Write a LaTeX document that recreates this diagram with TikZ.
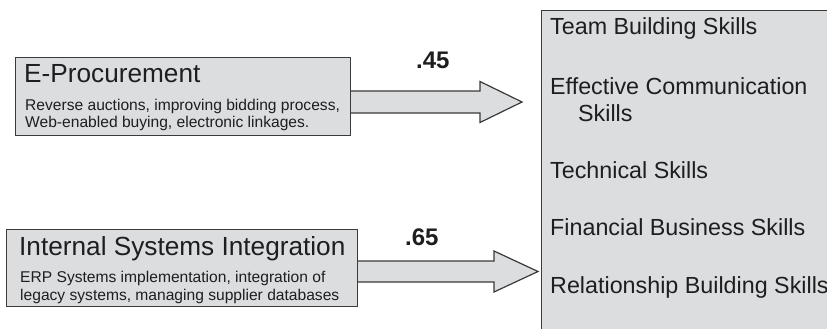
\documentclass[tikz,border=0pt]{standalone}
\usepackage{fontspec}
\setmainfont{Liberation Sans}
\usetikzlibrary{calc}
\definecolor{boxfill}{HTML}{DCDDDF}
\definecolor{edge}{HTML}{3A3A3A}
\definecolor{ink}{HTML}{1E1E1E}
\tikzset{
  panel/.style={draw=edge, line width=1pt, fill=boxfill, inner sep=0pt, anchor=north west},
  title/.style={anchor=base west, inner sep=0pt, text=ink, font=\fontsize{26.2}{28}\selectfont},
  detail/.style={anchor=base west, inner sep=0pt, text=ink, font=\fontsize{15.6}{17}\selectfont},
  skill/.style={anchor=base west, inner sep=0pt, text=ink, font=\fontsize{23.3}{26}\selectfont},
  weight/.style={anchor=base west, inner sep=0pt, text=ink, font=\fontsize{24}{26}\selectfont\bfseries},
  fatarrow/.style={draw=edge, line width=1.2pt, fill=boxfill, line join=miter}
}
\begin{document}
\begin{tikzpicture}[x=1pt, y=-1pt]
\useasboundingbox (0,0) rectangle (827,329);
\clip (0,0) rectangle (827,329);

% source boxes
\node[panel, minimum width=335pt, minimum height=78pt] (proc) at (15,57) {};
\node[panel, minimum width=351pt, minimum height=77pt] (integ) at (6,229) {};

% skills panel, running off the right and bottom edges
\node[panel, minimum width=320pt, minimum height=340pt] (skills) at (541,10) {};

% texts of the source boxes
\node[title] (procT) at (24,82) {E-Procurement};
\node[detail] (procA) at (25,110) {Reverse auctions, improving bidding process,};
\node[detail] (procB) at (25,127) {Web-enabled buying, electronic linkages.};

\node[title] (integT) at (19,255) {Internal Systems Integration};
\node[detail] (integA) at (20,282) {ERP Systems implementation, integration of};
\node[detail] (integB) at (20,300) {legacy systems, managing supplier databases};

% skills list
\node[skill] (s1) at (550,35) {Team Building Skills};
\node[skill] (s2) at (550,95) {Effective Communication};
\node[skill] (s2b) at (578,121) {Skills};
\node[skill] (s3) at (550,178) {Technical Skills};
\node[skill] (s4) at (550,235) {Financial Business Skills};
\node[skill] (s5) at (550,293) {Relationship Building Skills};

% block arrows from the sources toward the skills panel
\coordinate (a1s) at (proc.east |- 0,102);
\coordinate (a1t) at (522,102);
\draw[fatarrow]
  ($(a1s)+(0,-11)$) -- ($(a1t)+(-42,-11)$) -- ($(a1t)+(-42,-20.5)$) -- (a1t)
  -- ($(a1t)+(-42,20.5)$) -- ($(a1t)+(-42,11)$) -- ($(a1s)+(0,11)$);

\coordinate (a2s) at (integ.east |- 0,271.5);
\coordinate (a2t) at (538,271.5);
\draw[fatarrow]
  ($(a2s)+(0,-10.5)$) -- ($(a2t)+(-44,-10.5)$) -- ($(a2t)+(-44,-20.5)$) -- (a2t)
  -- ($(a2t)+(-44,20.5)$) -- ($(a2t)+(-44,10.5)$) -- ($(a2s)+(0,10.5)$);

% path weights
\node[weight] (w1) at (416,68) {.45};
\node[weight] (w2) at (405,245) {.65};
\end{tikzpicture}
\end{document}
